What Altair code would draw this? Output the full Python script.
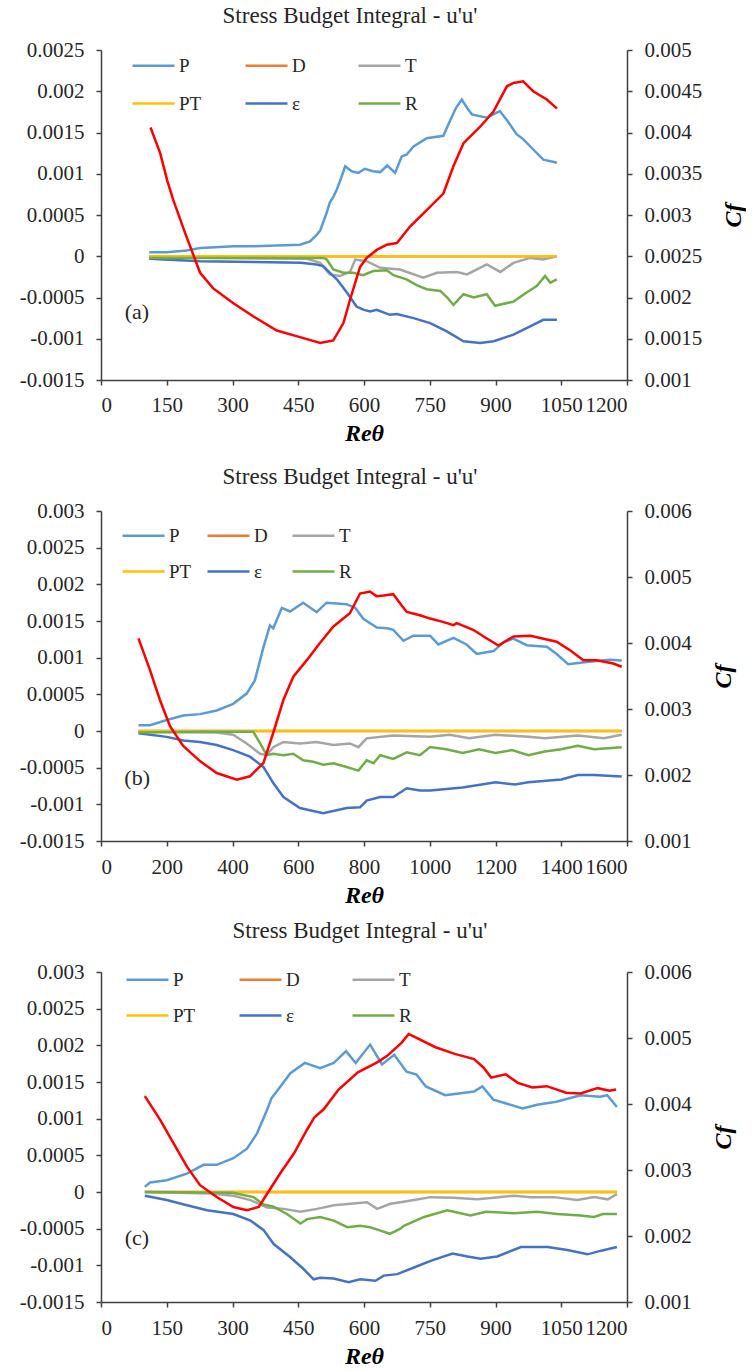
import altair as alt
import pandas as pd

FONT = "Liberation Serif"
SERIES = ["P", "D", "T", "PT", "ε", "R"]
COLORS = ["#5B9BD5", "#ED7D31", "#A5A5A5", "#FFC000", "#4472C4", "#70AD47"]
AXIS_COLOR = "#404040"
TEXT_COLOR = "#262626"
TITLE = "Stress Budget Integral  - u'u'"

# ---------------- Panel (a) ----------------
a_x_ticks = [0, 150, 300, 450, 600, 750, 900, 1050, 1200]
a_y_ticks = [-0.0015, -0.001, -0.0005, 0, 0.0005, 0.001, 0.0015, 0.002, 0.0025]
a_cf_ticks = [0.001, 0.0015, 0.002, 0.0025, 0.003, 0.0035, 0.004, 0.0045, 0.005]

a_P_re = [110, 150, 195, 226, 260, 302, 350, 400, 454, 477, 492, 500, 515, 522, 530, 538, 548, 557, 572, 587,
          602, 620, 637, 653, 671, 686, 697, 713, 743, 781, 796, 810, 823, 835, 846, 880, 910, 930, 948, 963,
          985, 1009, 1036, 1040]
a_P = [0.00005, 0.00005, 0.00007, 0.0001, 0.00011, 0.00012, 0.00012, 0.00013, 0.00014, 0.00018, 0.00026, 0.00031,
       0.00053, 0.00065, 0.00072, 0.00081, 0.00095, 0.00109, 0.00103, 0.00101, 0.00106, 0.00103, 0.00102, 0.0011,
       0.00101, 0.00121, 0.00123, 0.00133, 0.00143, 0.00146, 0.00164, 0.0018, 0.0019, 0.0018, 0.00172, 0.00168,
       0.00176, 0.00162, 0.00148, 0.00142, 0.0013, 0.00117, 0.00114, 0.00113]
a_T_re = [110, 300, 470, 500, 522, 545, 568, 580, 606, 637, 682, 735, 766, 812, 835, 880, 911, 941, 979, 1009, 1040]
a_T = [-0.00001, -0.00002, -0.00003, -0.00008, -0.00022, -0.00024, -0.00019, -0.00004, -0.00006, -0.00014,
       -0.00016, -0.00026, -0.0002, -0.00019, -0.00022, -0.0001, -0.00019, -0.00008, -0.00002, -0.00004, 0.0]
a_PT_re = [110, 400, 700, 1040]
a_PT = [0.0, 0.0, 0.0, 0.0]
a_D_re = [110, 400, 700, 1040]
a_D = [0.0, 0.0, 0.0, 0.0]
a_E_re = [110, 226, 350, 456, 492, 507, 530, 538, 561, 583, 600, 614, 629, 659, 675, 713, 751, 789, 827, 865,
          896, 941, 979, 1009, 1040]
a_E = [-0.00003, -0.00006, -0.00007, -0.00008, -0.0001, -0.00012, -0.00024, -0.00028, -0.00044, -0.00061,
       -0.00065, -0.00067, -0.00065, -0.00071, -0.0007, -0.00075, -0.00081, -0.00091, -0.00103, -0.00105,
       -0.00103, -0.00095, -0.00085, -0.00077, -0.00077]
a_R_re = [110, 300, 450, 508, 515, 530, 553, 575, 598, 621, 652, 667, 697, 720, 743, 774, 790, 804, 827, 850,
          880, 899, 941, 971, 994, 1013, 1025, 1040]
a_R = [-0.00002, -0.00002, -0.00002, -0.00002, -0.00004, -0.00016, -0.0002, -0.0002, -0.00023, -0.00018,
       -0.00017, -0.00023, -0.00028, -0.00035, -0.0004, -0.00042, -0.0005, -0.00059, -0.00046, -0.0005,
       -0.00046, -0.0006, -0.00055, -0.00044, -0.00036, -0.00024, -0.00032, -0.00028]
a_cf_re = [113, 135, 151, 165, 192, 226, 256, 302, 348, 401, 454, 500, 530, 553, 568, 580, 591, 606, 630, 652,
           675, 705, 743, 781, 804, 827, 865, 895, 926, 941, 963, 986, 1017, 1036, 1040]
a_cf = [0.00406, 0.00375, 0.00342, 0.00318, 0.00278, 0.0023, 0.00211, 0.00193, 0.00177, 0.0016, 0.00152,
        0.00145, 0.00148, 0.00169, 0.00197, 0.00218, 0.00237, 0.00248, 0.00258, 0.00264, 0.00266, 0.00286,
        0.00306, 0.00326, 0.00359, 0.00387, 0.00407, 0.00425, 0.00456, 0.0046, 0.00462, 0.0045, 0.0044,
        0.00431, 0.00429]

# ---------------- Panel (b) ----------------
b_x_ticks = [0, 200, 400, 600, 800, 1000, 1200, 1400, 1600]
b_y_ticks = [-0.0015, -0.001, -0.0005, 0, 0.0005, 0.001, 0.0015, 0.002, 0.0025, 0.003]
b_cf_ticks = [0.001, 0.002, 0.003, 0.004, 0.005, 0.006]

b_P_re = [114, 149, 200, 250, 301, 352, 402, 443, 468, 494, 514, 524, 550, 575, 615, 656, 686, 747, 773, 798,
          839, 870, 889, 920, 950, 1001, 1026, 1072, 1112, 1143, 1194, 1224, 1254, 1295, 1356, 1386, 1421,
          1477, 1548, 1584]
b_P = [0.00008, 0.00008, 0.00015, 0.00021, 0.00023, 0.00028, 0.00037, 0.00051, 0.00069, 0.00114, 0.00144,
       0.0014, 0.00168, 0.00163, 0.00175, 0.00162, 0.00175, 0.00173, 0.00168, 0.00153, 0.00141, 0.0014,
       0.00138, 0.00123, 0.0013, 0.0013, 0.00118, 0.00127, 0.00118, 0.00105, 0.00109, 0.00121, 0.00126,
       0.00117, 0.00115, 0.00105, 0.00091, 0.00094, 0.00097, 0.00096]
b_T_re = [114, 350, 402, 443, 484, 504, 524, 555, 605, 656, 707, 757, 783, 808, 889, 1001, 1060, 1120, 1200,
          1300, 1350, 1450, 1530, 1584]
b_T = [-0.00001, -0.00002, -0.00005, -0.00017, -0.00031, -0.00033, -0.00022, -0.00015, -0.00017, -0.00015,
       -0.00019, -0.00017, -0.00022, -0.0001, -0.00006, -0.00008, -0.00005, -0.0001, -0.00005, -0.00008,
       -0.0001, -0.00006, -0.0001, -0.00005]
b_PT_re = [114, 600, 1100, 1584]
b_PT = [0.0, 0.0, 0.0, 0.0]
b_D_re = [114, 600, 1100, 1584]
b_D = [0.0, 0.0, 0.0, 0.0]
b_E_re = [114, 200, 250, 301, 352, 402, 453, 494, 524, 555, 605, 676, 747, 788, 808, 849, 889, 930, 970, 1001,
          1100, 1200, 1260, 1300, 1400, 1450, 1500, 1584]
b_E = [-0.00003, -0.00008, -0.00013, -0.00015, -0.00019, -0.00026, -0.00035, -0.00049, -0.00071, -0.0009,
       -0.00105, -0.00112, -0.00105, -0.00104, -0.00095, -0.0009, -0.0009, -0.00078, -0.00081, -0.00081,
       -0.00077, -0.0007, -0.00073, -0.0007, -0.00066, -0.0006, -0.0006, -0.00062]
b_R_re = [114, 300, 463, 484, 504, 524, 555, 585, 615, 646, 676, 707, 747, 783, 808, 829, 849, 889, 930, 970,
          1001, 1050, 1100, 1150, 1200, 1250, 1300, 1350, 1400, 1450, 1500, 1584]
b_R = [-0.00002, -0.00001, -0.00001, -0.00017, -0.00033, -0.00031, -0.00033, -0.00031, -0.0004, -0.00042,
       -0.00046, -0.00044, -0.00049, -0.00054, -0.0004, -0.00044, -0.00033, -0.00038, -0.00029, -0.00033,
       -0.00022, -0.00025, -0.0003, -0.00025, -0.0003, -0.00026, -0.00033, -0.00028, -0.00025, -0.0002,
       -0.00025, -0.00022]
b_cf_re = [114, 149, 179, 210, 250, 301, 352, 413, 453, 494, 524, 555, 585, 626, 666, 707, 757, 788, 818, 838,
           860, 889, 910, 930, 970, 1001, 1040, 1072, 1082, 1132, 1170, 1209, 1255, 1306, 1386, 1430, 1467,
           1508, 1558, 1584]
b_cf = [0.00407, 0.00359, 0.00314, 0.00274, 0.00244, 0.00221, 0.00203, 0.00193, 0.00198, 0.00218, 0.00264,
        0.00314, 0.00349, 0.00374, 0.004, 0.00425, 0.00445, 0.00475, 0.00478, 0.00471, 0.00472, 0.00474,
        0.0046, 0.00447, 0.00442, 0.00437, 0.00432, 0.00427, 0.0043, 0.0042, 0.00408, 0.00396, 0.0041,
        0.00411, 0.00402, 0.00388, 0.00374, 0.00374, 0.00369, 0.00364]

# ---------------- Panel (c) ----------------
c_x_ticks = [0, 150, 300, 450, 600, 750, 900, 1050, 1200]
c_y_ticks = [-0.0015, -0.001, -0.0005, 0, 0.0005, 0.001, 0.0015, 0.002, 0.0025, 0.003]
c_cf_ticks = [0.001, 0.002, 0.003, 0.004, 0.005, 0.006]

c_P_re = [100, 112, 150, 196, 234, 264, 302, 333, 356, 379, 389, 397, 432, 465, 500, 531, 559, 581, 614, 641,
          669, 697, 720, 741, 785, 851, 870, 895, 962, 995, 1039, 1094, 1139, 1155, 1177]
c_P = [0.00007, 0.00013, 0.00016, 0.00025, 0.00037, 0.00037, 0.00046, 0.00059, 0.0008, 0.00112, 0.00128,
       0.00134, 0.00162, 0.00176, 0.00169, 0.00176, 0.00192, 0.00176, 0.00201, 0.00174, 0.00187, 0.00164,
       0.0016, 0.00144, 0.00132, 0.00137, 0.00144, 0.00126, 0.00114, 0.00119, 0.00123, 0.00132, 0.0013,
       0.00132, 0.00116]
c_T_re = [100, 250, 302, 341, 379, 417, 455, 493, 531, 569, 607, 630, 660, 683, 714, 752, 805, 858, 896, 942,
          980, 1033, 1087, 1125, 1156, 1177]
c_T = [0.0, -0.00002, -0.00005, -0.00011, -0.00021, -0.00023, -0.00027, -0.00023, -0.00018, -0.00016, -0.00014,
       -0.00023, -0.00016, -0.00014, -0.00011, -0.00007, -0.00008, -0.0001, -0.00008, -0.00005, -0.00007,
       -0.00007, -0.00011, -0.00007, -0.0001, -0.00003]
c_PT_re = [100, 500, 900, 1177]
c_PT = [0.0, 0.0, 0.0, 0.0]
c_D_re = [100, 500, 900, 1177]
c_D = [0.0, 0.0, 0.0, 0.0]
c_E_re = [100, 150, 196, 242, 302, 341, 371, 394, 432, 462, 485, 500, 531, 565, 591, 626, 645, 676, 714, 752,
          802, 836, 866, 904, 958, 1019, 1064, 1110, 1141, 1177]
c_E = [-0.00005, -0.00011, -0.00018, -0.00025, -0.0003, -0.00039, -0.00052, -0.00071, -0.00089, -0.00105,
       -0.00119, -0.00117, -0.00118, -0.00123, -0.00119, -0.00121, -0.00114, -0.00112, -0.00103, -0.00094,
       -0.00084, -0.00088, -0.00091, -0.00088, -0.00075, -0.00075, -0.00079, -0.00085, -0.0008, -0.00075]
c_R_re = [100, 300, 348, 371, 394, 424, 455, 470, 500, 531, 562, 591, 614, 634, 659, 683, 691, 737, 790, 843,
          878, 942, 995, 1041, 1094, 1125, 1145, 1177]
c_R = [0.0, -0.00001, -0.00007, -0.00017, -0.0002, -0.0003, -0.00043, -0.00037, -0.00034, -0.00039, -0.00048,
       -0.00046, -0.00048, -0.00052, -0.00057, -0.0005, -0.00046, -0.00034, -0.00025, -0.00032, -0.00027,
       -0.00029, -0.00027, -0.0003, -0.00032, -0.00034, -0.0003, -0.0003]
c_cf_re = [100, 135, 165, 196, 226, 264, 302, 333, 360, 379, 409, 440, 470, 487, 508, 542, 586, 630, 653, 686,
           702, 712, 763, 807, 851, 873, 890, 923, 951, 984, 1017, 1061, 1094, 1133, 1160, 1175]
c_cf = [0.00412, 0.00376, 0.00341, 0.00305, 0.00277, 0.00259, 0.00244, 0.00239, 0.00244, 0.00264, 0.00295,
        0.00325, 0.00361, 0.0038, 0.00392, 0.00422, 0.00448, 0.00463, 0.00473, 0.00493, 0.00506, 0.00503,
        0.00486, 0.00476, 0.00468, 0.00455, 0.0044, 0.00445, 0.00432, 0.00425, 0.00427, 0.00417, 0.00416,
        0.00424, 0.0042, 0.00422]

PANEL_W = 526
PANEL_H = 330
LABEL_SIZE = 21


def make_panel(series_map, cf_re, cf_val, x_ticks, y_ticks, cf_ticks, tag, tag_re, tag_v,
               leg_x, leg_y, col_pad, row_pad, title_dx, title_offset, x_label_pad):
    xenc = alt.X(
        "Re:Q",
        scale=alt.Scale(domain=[x_ticks[0], x_ticks[-1]], nice=False, zero=False),
        axis=alt.Axis(values=x_ticks, format="d", title="Reθ", grid=False,
                      labelFont=FONT, labelFontSize=LABEL_SIZE, labelColor=TEXT_COLOR,
                      labelPadding=x_label_pad,
                      titleFont=FONT, titleFontSize=24, titleFontStyle="italic", titleFontWeight="bold",
                      titleColor="#000000", titlePadding=6,
                      domainColor=AXIS_COLOR, domainWidth=1.5, tickColor=AXIS_COLOR, tickWidth=1.5,
                      tickSize=5),
    )
    yenc = alt.Y(
        "value:Q",
        scale=alt.Scale(domain=[y_ticks[0], y_ticks[-1]], nice=False, zero=False),
        axis=alt.Axis(values=y_ticks, labelExpr="'' + datum.value", title=None, grid=False,
                      labelFont=FONT, labelFontSize=LABEL_SIZE, labelColor=TEXT_COLOR, labelPadding=12,
                      domainColor=AXIS_COLOR, domainWidth=1.5, tickColor=AXIS_COLOR, tickWidth=1.5,
                      tickSize=5),
    )
    cenc = alt.Color(
        "series:N",
        scale=alt.Scale(domain=SERIES, range=COLORS),
        legend=alt.Legend(title=None, orient="none", legendX=leg_x, legendY=leg_y, columns=3,
                          direction="horizontal",
                          symbolType="stroke", symbolSize=1764, symbolStrokeWidth=2.5,
                          labelFont=FONT, labelFontSize=19, labelColor=TEXT_COLOR, labelOffset=3,
                          columnPadding=col_pad, rowPadding=row_pad, gridAlign="all", padding=0),
    )
    layers = []
    for s in SERIES:
        re_vals, vals = series_map[s]
        df = pd.DataFrame({"Re": re_vals, "value": vals, "series": s})
        layers.append(alt.Chart(df).mark_line(strokeWidth=2.5).encode(x=xenc, y=yenc, color=cenc))
    tag_df = pd.DataFrame({"Re": [tag_re], "value": [tag_v], "tag": [tag]})
    layers.append(
        alt.Chart(tag_df).mark_text(font=FONT, fontSize=22, color=TEXT_COLOR).encode(
            x=xenc, y=yenc, text="tag:N")
    )
    budget = alt.layer(*layers)
    cf_df = pd.DataFrame({"Re": cf_re, "Cf": cf_val})
    cf = alt.Chart(cf_df).mark_line(strokeWidth=2.5, color="#FF0000").encode(
        x=xenc,
        y=alt.Y("Cf:Q",
                scale=alt.Scale(domain=[cf_ticks[0], cf_ticks[-1]], nice=False, zero=False),
                axis=alt.Axis(orient="right", values=cf_ticks, labelExpr="'' + datum.value",
                              title="Cf", titleAngle=270, titleFont=FONT, titleFontSize=24,
                              titleFontStyle="italic", titleFontWeight="bold", titleColor="#000000",
                              titlePadding=44, grid=False,
                              labelFont=FONT, labelFontSize=LABEL_SIZE, labelColor=TEXT_COLOR,
                              labelPadding=12,
                              domainColor=AXIS_COLOR, domainWidth=1.5, tickColor=AXIS_COLOR,
                              tickWidth=1.5, tickSize=5)),
    )
    return alt.layer(budget, cf).resolve_scale(y="independent").properties(
        width=PANEL_W, height=PANEL_H,
        title=alt.TitleParams(text=TITLE, font=FONT, fontSize=23, fontWeight="normal",
                              color=TEXT_COLOR, anchor="middle", frame="group", dx=title_dx,
                              offset=title_offset),
    )


pa = make_panel(
    {"P": (a_P_re, a_P), "D": (a_D_re, a_D), "T": (a_T_re, a_T), "PT": (a_PT_re, a_PT),
     "ε": (a_E_re, a_E), "R": (a_R_re, a_R)},
    a_cf_re, a_cf, a_x_ticks, a_y_ticks, a_cf_ticks, "(a)", 82, -0.00068,
    leg_x=30, leg_y=-7, col_pad=38, row_pad=5, title_dx=-14, title_offset=11, x_label_pad=9)

pb = make_panel(
    {"P": (b_P_re, b_P), "D": (b_D_re, b_D), "T": (b_T_re, b_T), "PT": (b_PT_re, b_PT),
     "ε": (b_E_re, b_E), "R": (b_R_re, b_R)},
    b_cf_re, b_cf, b_x_ticks, b_y_ticks, b_cf_ticks, "(b)", 110, -0.00064,
    leg_x=20, leg_y=2, col_pad=10, row_pad=3, title_dx=-14, title_offset=11, x_label_pad=10)

pc = make_panel(
    {"P": (c_P_re, c_P), "D": (c_D_re, c_D), "T": (c_T_re, c_T), "PT": (c_PT_re, c_PT),
     "ε": (c_E_re, c_E), "R": (c_R_re, c_R)},
    c_cf_re, c_cf, c_x_ticks, c_y_ticks, c_cf_ticks, "(c)", 82, -0.00063,
    leg_x=24, leg_y=-15, col_pad=38, row_pad=3, title_dx=-4, title_offset=14, x_label_pad=10)

chart = (
    alt.vconcat(pa, pb, pc, spacing=131, bounds="flush")
    .resolve_scale(color="independent")
    .properties(padding={"left": 19, "top": 5, "right": 0, "bottom": 0}, background="white")
    .configure_view(stroke=None)
)

chart.save("out.html", embed_options={"renderer": "svg", "actions": False})
